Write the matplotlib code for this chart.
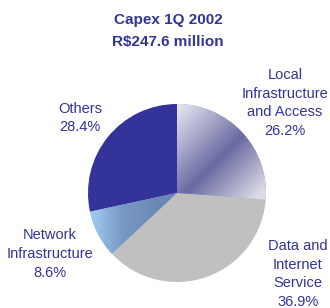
import numpy as np
import matplotlib
matplotlib.use("Agg")
import matplotlib.pyplot as plt
from matplotlib.colors import LinearSegmentedColormap

labels = ["Local\nInfrastructure\nand Access", "Data and\nInternet\nService",
          "Network\nInfrastructure", "Others"]
shares = [26.2, 36.9, 8.6, 28.4]
title = ["Capex 1Q 2002", "R$247.6 million"]

W, H = 330, 308
txt = "#333399"
plt.rcParams["font.family"] = ["Liberation Sans", "DejaVu Sans"]

fig = plt.figure(figsize=(W / 100, H / 100), dpi=100)
ax = fig.add_axes([0, 0, 1, 1])

cx, cy, r = 177, H - 193, 89
wedges, _ = ax.pie(shares, center=(cx, cy), radius=r, startangle=90, counterclock=False,
                   colors=["#8080b0", "#c0c0c0", "#80a8d0", "#333399"],
                   wedgeprops=dict(linewidth=0), frame=True)
ax.set_xlim(0, W); ax.set_ylim(0, H); ax.set_aspect("equal"); ax.axis("off")

# gradient fills for the two shaded wedges
xs = np.linspace(cx - r, cx + r, 300)
ys = np.linspace(cy - r, cy + r, 300)
X, Y = np.meshgrid(xs, ys)
ext = (cx - r, cx + r, cy - r, cy + r)

t = ((X - cx) - (Y - cy)) / np.sqrt(2)   # upper-left -> lower-right
cm_local = LinearSegmentedColormap.from_list("loc", [(0, "#e4e4f0"), (0.55, "#6a6aa2"), (1, "#dcdce8")])
im = ax.imshow((np.clip(t, -60, 60) + 60) / 120, cmap=cm_local, vmin=0, vmax=1,
               extent=ext, origin="lower", zorder=2, interpolation="bilinear")
im.set_clip_path(wedges[0])

u = (X - (cx - r)) / 70
cm_net = LinearSegmentedColormap.from_list("net", ["#a4d0f6", "#7898c4", "#6a88b4"])
im2 = ax.imshow(np.clip(u, 0, 1), cmap=cm_net, vmin=0, vmax=1,
                extent=ext, origin="lower", zorder=2, interpolation="bilinear")
im2.set_clip_path(wedges[2])

ax.text(168, H - 20, title[0], ha="center", va="center", color=txt, fontsize=11,
        fontweight="bold", parse_math=False)
ax.text(168, H - 42, title[1], ha="center", va="center", color=txt, fontsize=11,
        fontweight="bold", parse_math=False)

pos = [(285, 103), (298, 274), (50, 254), (80, 118)]
for lab, s, (x, y) in zip(labels, shares, pos):
    ax.text(x, H - y, f"{lab}\n{s:.1f}%", ha="center", va="center", color=txt,
            fontsize=10.5, linespacing=1.42)

fig.savefig("out.png", dpi=100)
